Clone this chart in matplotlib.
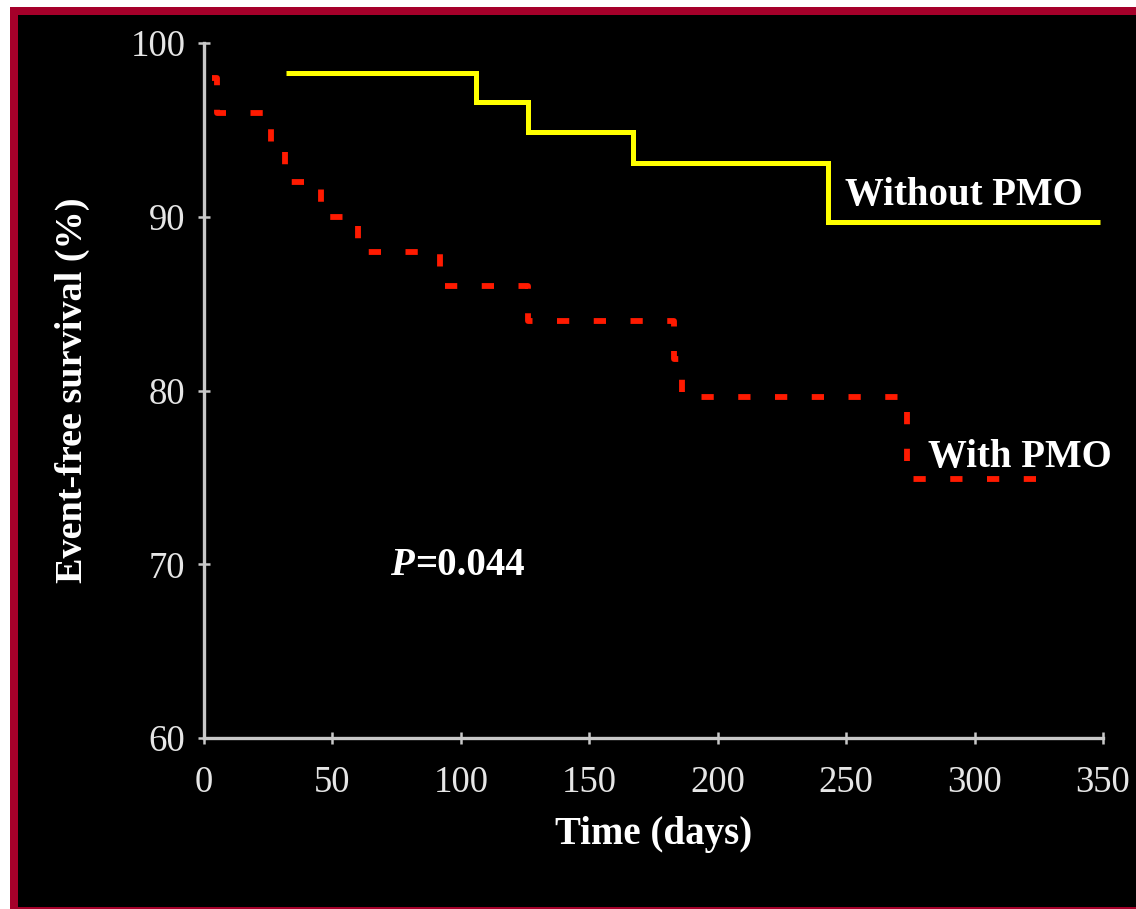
import matplotlib
matplotlib.use("Agg")
import matplotlib.pyplot as plt
from matplotlib.patches import Rectangle

# Kaplan-Meier step data (time in days, event-free survival in %)
without_pmo_days = [32, 106, 126, 167, 243, 349]
without_pmo_surv = [98.3, 96.6, 94.9, 93.1, 89.7, 89.7]

with_pmo_days = [3, 5, 26, 31.5, 45.5, 60, 92, 126, 183, 186, 273.5, 330]
with_pmo_surv = [98.0, 96.0, 94.0, 92.0, 90.0, 88.0, 86.0, 84.0, 81.8, 79.6, 74.9, 74.9]

x_ticks = [0, 50, 100, 150, 200, 250, 300, 350]
y_ticks = [60, 70, 80, 90, 100]

serif = ["Liberation Serif", "DejaVu Serif"]
plt.rcParams["font.family"] = serif

W, H = 1136, 909
fig = plt.figure(figsize=(W / 100, H / 100), dpi=100, facecolor="white")

# Dark red frame with black panel, on a background axes behind the plot
bg = fig.add_axes([0, 0, 1, 1], zorder=0)
bg.set_xlim(0, W)
bg.set_ylim(H, 0)
bg.axis("off")
bg.add_patch(Rectangle((10, 7), 1200, 908, facecolor="#a5002a", edgecolor="none"))
bg.add_patch(Rectangle((18, 15), 1200, 892, facecolor="black", edgecolor="none"))

left, right, top, bottom = 204 / W, 1103 / W, 1 - 43 / H, 1 - 738 / H
ax = fig.add_axes([left, bottom, right - left, top - bottom], zorder=2)
ax.set_facecolor("none")

ax.step(without_pmo_days, without_pmo_surv, where="post", color="#ffff00",
        lw=3.6, solid_capstyle="butt", solid_joinstyle="miter", zorder=3)
red_line, = ax.step(with_pmo_days, with_pmo_surv, where="post", color="#ff1a00",
                    lw=4.2, zorder=3)
red_line.set_dashes((2.1, 4.2))
red_line.set_dash_capstyle("butt")

ax.set_xlim(0, 350)
ax.set_ylim(60, 100)
ax.set_xticks(x_ticks)
ax.set_yticks(y_ticks)

axis_col = "#c8c8c8"
for side in ("top", "right"):
    ax.spines[side].set_visible(False)
for side in ("left", "bottom"):
    ax.spines[side].set_color(axis_col)
    ax.spines[side].set_linewidth(2.4)

ax.tick_params(axis="both", direction="inout", length=9, width=1.8, color=axis_col,
               labelcolor="#e6e6e6", labelsize=26.5)
ax.tick_params(axis="x", pad=15)
ax.tick_params(axis="y", pad=9)

ax.set_xlabel("Time (days)", fontsize=28, fontweight="bold", color="white", labelpad=12)
ax.set_ylabel("Event-free survival (%)", fontsize=27.5, fontweight="bold", color="white",
              labelpad=29)

ax.text(249.5, 90.7, "Without PMO", fontsize=28, fontweight="bold", color="white",
        ha="left", va="baseline", zorder=4)
ax.text(282, 75.6, "With PMO", fontsize=28, fontweight="bold", color="white",
        ha="left", va="baseline", zorder=4)
p_txt = ax.text(72.5, 69.4, "P", fontsize=28, fontweight="bold", fontstyle="italic",
                color="white", ha="left", va="baseline")
ax.annotate("=0.044", xy=(1, 0), xycoords=p_txt, xytext=(1, 0), textcoords="offset points",
            fontsize=28, fontweight="bold", color="white", ha="left", va="bottom")

fig.savefig("out.png", dpi=100, facecolor="white")
